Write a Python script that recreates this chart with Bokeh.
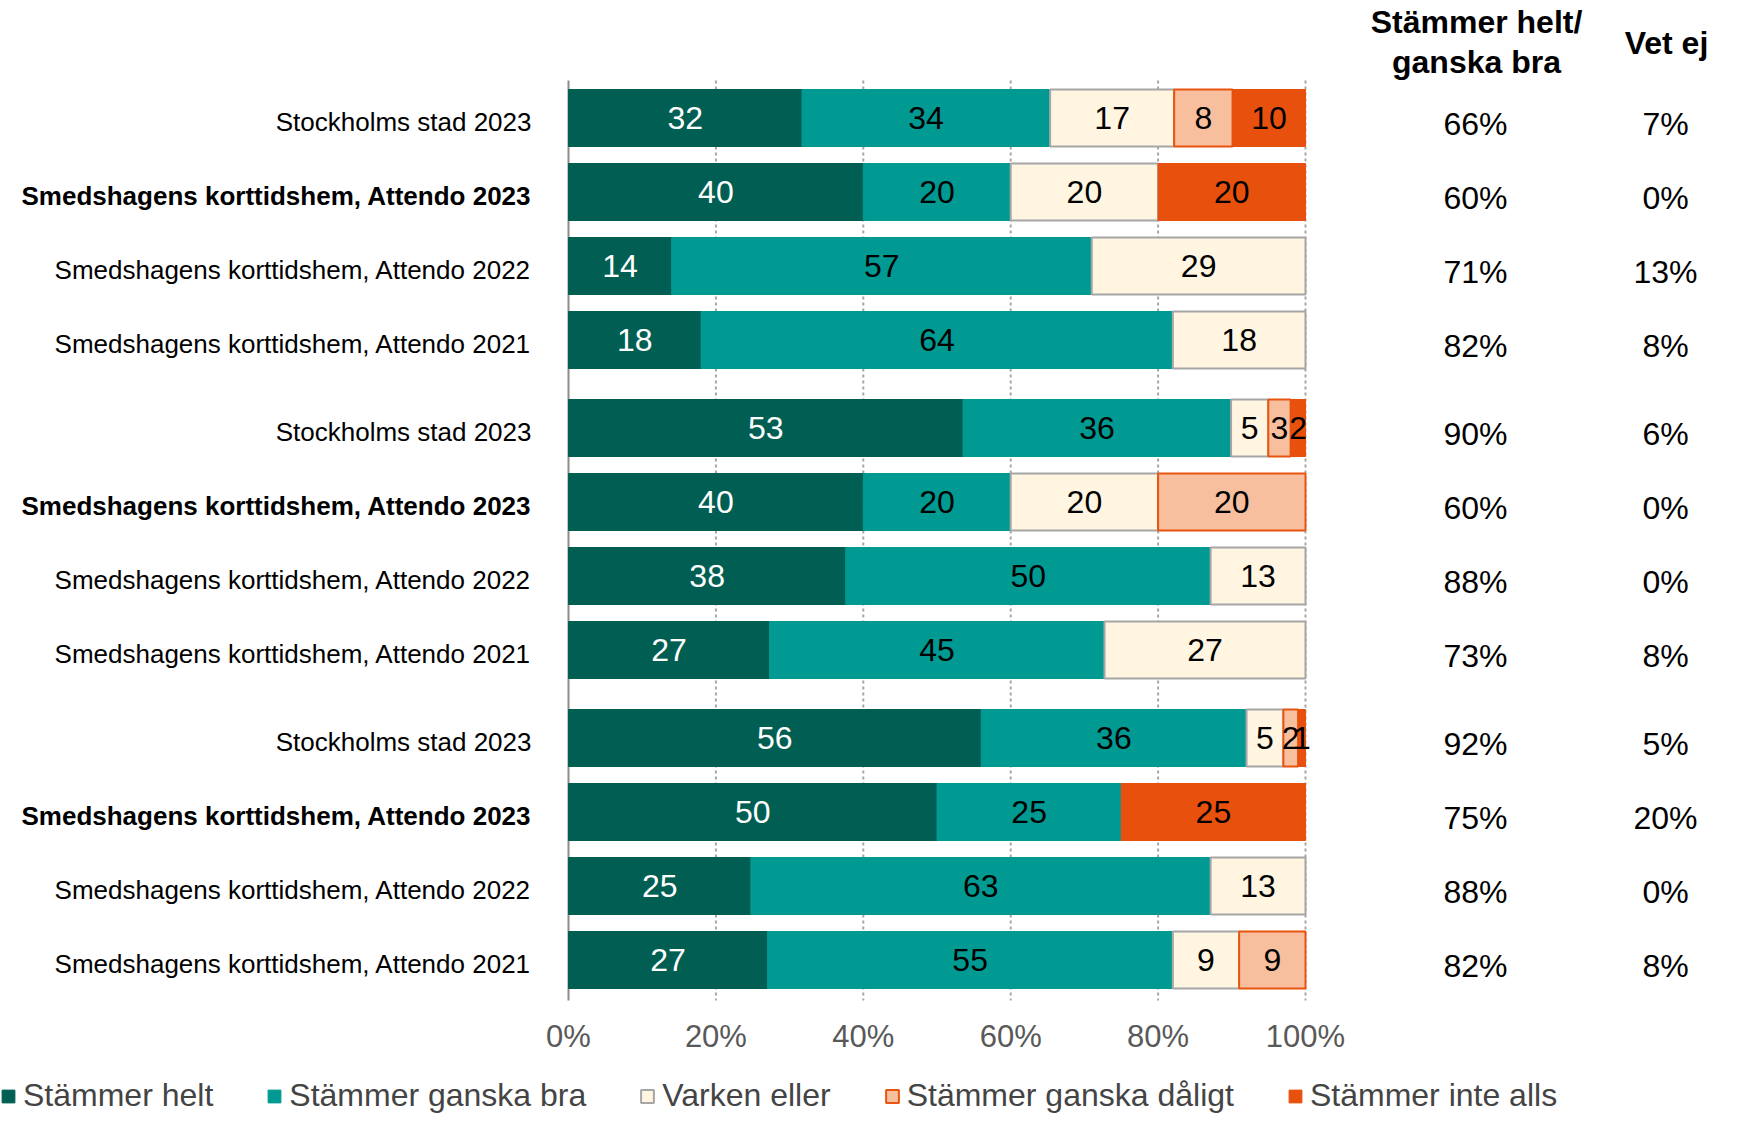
from bokeh.plotting import figure
from bokeh.models import ColumnDataSource, Range1d, FixedTicker, Legend, LegendItem
from bokeh.core.properties import value
from bokeh.embed import file_html
from bokeh.resources import INLINE

# ---------------- data ----------------
categories = [
    "Stockholms stad 2023",
    "Smedshagens korttidshem, Attendo 2023",
    "Smedshagens korttidshem, Attendo 2022",
    "Smedshagens korttidshem, Attendo 2021",
] * 3
bold_rows = [False, True, False, False] * 3
series_names = ["Stämmer helt", "Stämmer ganska bra", "Varken eller",
                "Stämmer ganska dåligt", "Stämmer inte alls"]
stammer_helt = [32, 40, 14, 18, 53, 40, 38, 27, 56, 50, 25, 27]
stammer_ganska_bra = [34, 20, 57, 64, 36, 20, 50, 45, 36, 25, 63, 55]
varken_eller = [17, 20, 29, 18, 5, 20, 13, 27, 5, 0, 13, 9]
stammer_ganska_daligt = [8, 0, 0, 0, 3, 20, 0, 0, 2, 0, 0, 9]
stammer_inte_alls = [10, 20, 0, 0, 2, 0, 0, 0, 1, 25, 0, 0]
helt_ganska_bra = ["66%", "60%", "71%", "82%", "90%", "60%", "88%", "73%",
                   "92%", "75%", "88%", "82%"]
vet_ej = ["7%", "0%", "13%", "8%", "6%", "0%", "0%", "8%", "5%", "20%", "0%", "8%"]
header_1 = ["Stämmer helt/", "ganska bra"]
header_2 = "Vet ej"
x_ticks = [0, 20, 40, 60, 80, 100]

# ---------------- styles ----------------
fills = ["#005E52", "#009A93", "#FFF5E1", "#F8BF9F", "#E8500E"]
lines = ["#005E52", "#009A93", "#A6A6A6", "#E9540F", "#E8500E"]
line_w = [1, 1, 2, 2, 1]
txt_col = ["white", "black", "black", "black", "black"]
FONT = "Liberation Sans"

# ---------------- layout ----------------
W, H = 1729, 1113
X0 = 568.0          # canvas px of 0 %
PXP = 7.37          # px per percent
AXIS_Y = 1000       # canvas y of the x axis
ROW0, PITCH, GROUP = 117.5, 74.0, 310.0
BAR_H = 57


def px(cx):
    return (cx - X0) / PXP


row_y = [ROW0 + GROUP * (k // 4) + PITCH * (k % 4) for k in range(len(categories))]

p = figure(width=W, height=H, output_backend="svg", toolbar_location=None,
           x_range=Range1d(-X0 / PXP, (W - X0) / PXP),
           y_range=Range1d(H, 0),
           x_axis_location="below", y_axis_location=None,
           min_border_left=0, min_border_right=0, min_border_top=0,
           min_border_bottom=0)
p.outline_line_color = None
p.grid.visible = False
p.background_fill_color = "white"

# gridlines and left axis line
grid_x = x_ticks[1:]
p.segment(x0=grid_x, x1=grid_x, y0=[80] * len(grid_x), y1=[AXIS_Y] * len(grid_x),
          line_color="#A6A6A6", line_width=2, line_dash="3 3")
p.segment(x0=[0], x1=[0], y0=[80], y1=[AXIS_Y], line_color="#8C8C8C", line_width=2)

# stacked bars
all_series = [stammer_helt, stammer_ganska_bra, varken_eller,
              stammer_ganska_daligt, stammer_inte_alls]
totals = [sum(s[r] for s in all_series) for r in range(len(categories))]
cum = [0.0] * len(categories)
legend_items = []
for k, s in enumerate(all_series):
    ys, lefts, rights, labs, lx = [], [], [], [], []
    for r, v in enumerate(s):
        w = v / totals[r] * 100.0
        if v > 0:
            ys.append(row_y[r])
            lefts.append(cum[r])
            rights.append(cum[r] + w)
            labs.append(str(v))
            lx.append(cum[r] + w / 2)
        cum[r] += w
    src = ColumnDataSource(dict(y=ys, left=lefts, right=rights, lab=labs, lx=lx))
    rend = p.hbar(y="y", left="left", right="right", height=BAR_H, source=src,
                  fill_color=fills[k], line_color=lines[k], line_width=line_w[k])
    legend_items.append(LegendItem(label=series_names[k], renderers=[rend]))
    p.text(x="lx", y="y", text="lab", source=src, text_align="center",
           text_baseline="middle", text_font=value(FONT), text_font_size="32px",
           text_color=txt_col[k])

# category labels
for bold in (False, True):
    idx = [i for i in range(len(categories)) if bold_rows[i] == bold]
    p.text(x=[px(531)] * len(idx), y=[row_y[i] + 4 for i in idx],
           text=[categories[i] for i in idx], text_align="right",
           text_baseline="middle", text_font=value(FONT), text_font_size="26px",
           text_font_style="bold" if bold else "normal", text_color="black")

# right-hand columns
p.text(x=[px(1475)] * len(row_y), y=[y + 6 for y in row_y], text=helt_ganska_bra,
       text_align="center", text_baseline="middle", text_font=value(FONT),
       text_font_size="32px", text_color="black")
p.text(x=[px(1665)] * len(row_y), y=[y + 6 for y in row_y], text=vet_ej,
       text_align="center", text_baseline="middle", text_font=value(FONT),
       text_font_size="32px", text_color="black")
p.text(x=[px(1476)] * 2, y=[21, 61], text=header_1, text_align="center",
       text_baseline="middle", text_font=value(FONT), text_font_size="32px",
       text_font_style="bold", text_color="black")
p.text(x=[px(1666)], y=[42], text=[header_2], text_align="center",
       text_baseline="middle", text_font=value(FONT), text_font_size="32px",
       text_font_style="bold", text_color="black")

# x axis (drawn at a fixed location inside the frame)
ax = p.xaxis[0]
ax.fixed_location = AXIS_Y
ax.ticker = FixedTicker(ticks=x_ticks)
ax.major_label_overrides = {t: f"{t}%" for t in x_ticks}
ax.axis_line_color = None
ax.major_tick_line_color = None
ax.minor_tick_line_color = None
ax.major_tick_out = 0
ax.major_tick_in = 0
ax.major_label_standoff = 18
ax.major_label_text_font = FONT
ax.major_label_text_font_size = "31px"
ax.major_label_text_color = "#595959"

# legend
LEG_C = 1096
legend = Legend(items=legend_items, location=(0, H - LEG_C - 18),
                orientation="horizontal",
                glyph_width=16, glyph_height=16, label_standoff=7, spacing=53,
                padding=0, margin=0, border_line_color=None,
                background_fill_alpha=0, label_text_font=FONT,
                label_text_font_size="32px", label_height=36)
p.add_layout(legend)

open("out.html", "w").write(file_html(p, INLINE))
